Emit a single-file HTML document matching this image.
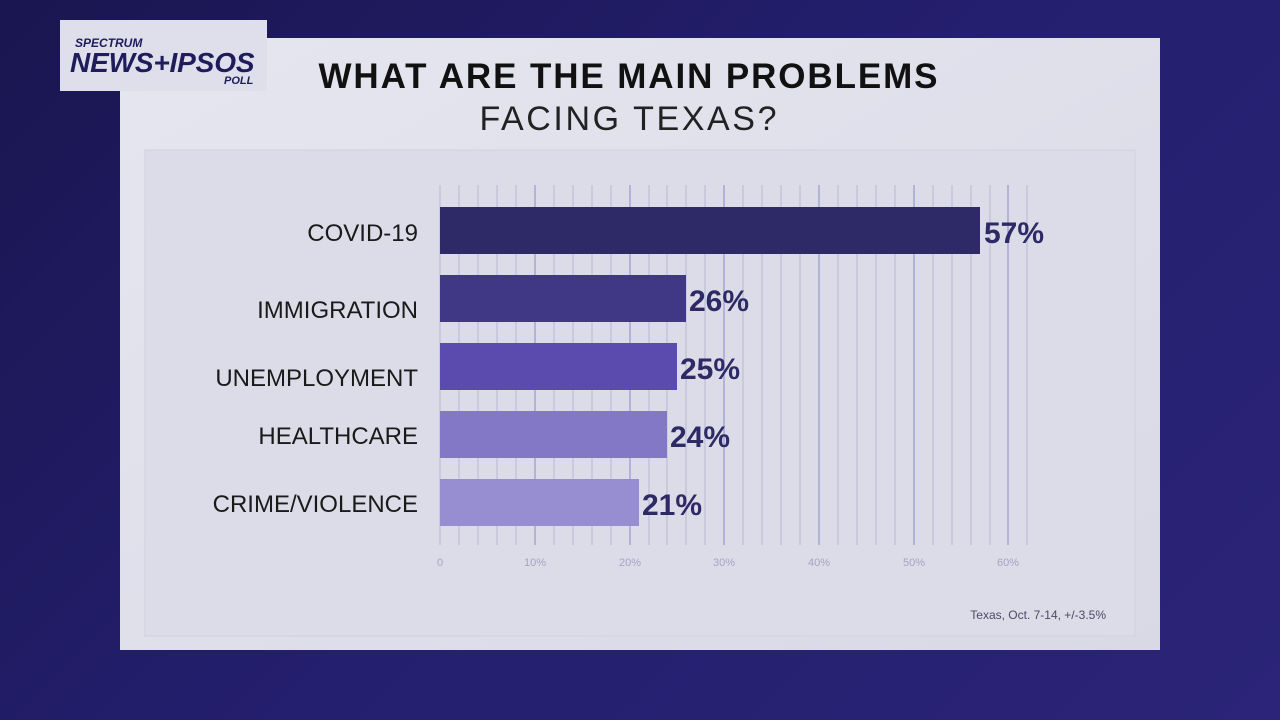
<!DOCTYPE html>
<html><head><style>
html,body{margin:0;padding:0}
body{width:1280px;height:720px;overflow:hidden;background:linear-gradient(135deg,#1a1650 0%,#241f6e 50%,#2b2478 100%);font-family:"Liberation Sans",sans-serif;}
</style></head><body>
<svg width="1280" height="720" xmlns="http://www.w3.org/2000/svg" style="position:absolute;left:0;top:0">
<defs>
<linearGradient id="card" x1="0" y1="0" x2="1" y2="1"><stop offset="0" stop-color="#e6e6f0"/><stop offset="1" stop-color="#d9d9e6"/></linearGradient>
</defs>
<rect x="120" y="38" width="1040" height="612" fill="url(#card)"/>
<rect x="145" y="150" width="990" height="486" fill="#dcdce8" stroke="#cfcfdf"/>
<rect x="60" y="20" width="207" height="71" fill="#dedfea"/>
<text x="75" y="47" font-size="12" font-weight="bold" font-style="italic" fill="#1f1c5c">SPECTRUM</text>
<text x="70" y="72" font-size="28" font-weight="bold" font-style="italic" fill="#1f1c5c" letter-spacing="-1.5" textLength="183">NEWS+IPSOS</text>
<text x="224" y="84" font-size="11" font-weight="bold" font-style="italic" fill="#1f1c5c">POLL</text>
<text x="628" y="88" font-size="35" font-weight="bold" fill="#111" text-anchor="middle" textLength="619">WHAT ARE THE MAIN PROBLEMS</text>
<text x="628" y="130" font-size="34" fill="#222" text-anchor="middle" textLength="297">FACING TEXAS?</text>
<g stroke="#b8b7d6" stroke-width="1">
<line x1="440" y1="185" x2="440" y2="545"/><line x1="459" y1="185" x2="459" y2="545"/><line x1="478" y1="185" x2="478" y2="545"/><line x1="497" y1="185" x2="497" y2="545"/><line x1="516" y1="185" x2="516" y2="545"/><line x1="535" y1="185" x2="535" y2="545" stroke="#8a88c6"/><line x1="554" y1="185" x2="554" y2="545"/><line x1="573" y1="185" x2="573" y2="545"/><line x1="592" y1="185" x2="592" y2="545"/><line x1="611" y1="185" x2="611" y2="545"/><line x1="630" y1="185" x2="630" y2="545" stroke="#8a88c6"/><line x1="649" y1="185" x2="649" y2="545"/><line x1="667" y1="185" x2="667" y2="545"/><line x1="686" y1="185" x2="686" y2="545"/><line x1="705" y1="185" x2="705" y2="545"/><line x1="724" y1="185" x2="724" y2="545" stroke="#8a88c6"/><line x1="743" y1="185" x2="743" y2="545"/><line x1="762" y1="185" x2="762" y2="545"/><line x1="781" y1="185" x2="781" y2="545"/><line x1="800" y1="185" x2="800" y2="545"/><line x1="819" y1="185" x2="819" y2="545" stroke="#8a88c6"/><line x1="838" y1="185" x2="838" y2="545"/><line x1="857" y1="185" x2="857" y2="545"/><line x1="876" y1="185" x2="876" y2="545"/><line x1="895" y1="185" x2="895" y2="545"/><line x1="914" y1="185" x2="914" y2="545" stroke="#8a88c6"/><line x1="933" y1="185" x2="933" y2="545"/><line x1="952" y1="185" x2="952" y2="545"/><line x1="971" y1="185" x2="971" y2="545"/><line x1="990" y1="185" x2="990" y2="545"/><line x1="1008" y1="185" x2="1008" y2="545" stroke="#8a88c6"/><line x1="1027" y1="185" x2="1027" y2="545"/>
</g>
<g font-size="11" fill="#a4a3c4" text-anchor="middle">
<text x="440" y="566">0</text><text x="535" y="566">10%</text><text x="630" y="566">20%</text><text x="724" y="566">30%</text><text x="819" y="566">40%</text><text x="914" y="566">50%</text><text x="1008" y="566">60%</text>
</g>
<rect x="440" y="207" width="540" height="47" fill="#2e2a68"/>
<rect x="440" y="275" width="246" height="47" fill="#413885"/>
<rect x="440" y="343" width="237" height="47" fill="#5b4bae"/>
<rect x="440" y="411" width="227" height="47" fill="#8378c5"/>
<rect x="440" y="479" width="199" height="47" fill="#978dd1"/>
<g font-size="30" font-weight="bold" fill="#2d2a66">
<text x="984" y="243">57%</text><text x="689" y="311">26%</text><text x="680" y="379">25%</text><text x="670" y="447">24%</text><text x="642" y="515">21%</text>
</g>
<g font-size="24" fill="#1a1a1a" text-anchor="end">
<text x="418" y="241">COVID-19</text><text x="418" y="318">IMMIGRATION</text><text x="418" y="386">UNEMPLOYMENT</text><text x="418" y="444">HEALTHCARE</text><text x="418" y="512">CRIME/VIOLENCE</text>
</g>
<text x="1106" y="619" font-size="12" fill="#4a4a66" text-anchor="end">Texas, Oct. 7-14, +/-3.5%</text>
</svg>
</body></html>
